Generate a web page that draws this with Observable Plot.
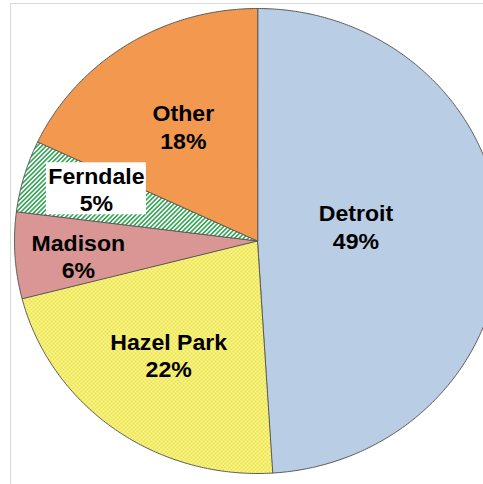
<!DOCTYPE html>
<html><head><meta charset="utf-8">
<script src="https://cdn.jsdelivr.net/npm/d3@7"></script>
<script src="https://cdn.jsdelivr.net/npm/@observablehq/plot@0.6"></script>
<style>body{margin:0;background:#fff} svg{display:block}</style>
</head><body><div id="chart"></div>
<script>
// ---- data ----
const categories = ["Detroit", "Hazel Park", "Madison", "Ferndale", "Other"];
const shares = [49, 22, 6, 5, 18];
const labels = categories.map((c, i) => `${c}\n${shares[i]}%`);

// ---- styles / layout ----
const sliceFills = ["#b9cde5", "url(#checker)", "#d99694", "url(#stripes)", "#f2994f"];
const labelRadius = [0.41, 0.61, 0.74, 0.70, 0.58];
const labelT = [0.46, 0.51, 0.44, 0.64, 0.51];

const total = d3.sum(shares);
let acc = 0;
const slices = categories.map((name, i) => {
  const a0 = acc / total * 2 * Math.PI; acc += shares[i];
  const a1 = acc / total * 2 * Math.PI;
  return {name, a0, a1, i};
});
const outline = [];
for (const s of slices) {
  outline.push({name: s.name, x: 0, y: 0, fill: sliceFills[s.i]});
  const n = Math.max(2, Math.ceil((s.a1 - s.a0) / (Math.PI / 360)));
  for (let k = 0; k <= n; k++) {
    const a = s.a0 + (s.a1 - s.a0) * k / n;
    outline.push({name: s.name, x: Math.sin(a), y: Math.cos(a), fill: sliceFills[s.i]});
  }
}
const rim = outline.filter(d => d.x !== 0 || d.y !== 0);
const labelPts = slices.map(s => {
  const a = s.a0 + (s.a1 - s.a0) * labelT[s.i];
  const r = labelRadius[s.i];
  return {name: s.name, text: labels[s.i], x: r * Math.sin(a), y: r * Math.cos(a)};
});

const chart = Plot.plot({
  width: 483, height: 484,
  marginLeft: 10, marginTop: 3, marginRight: -3, marginBottom: -3,
  x: {domain: [-1, 1], range: [14, 500], axis: null},
  y: {domain: [-1, 1], range: [473, 8], axis: null},
  color: {type: "identity"},
  marks: [
    Plot.frame({stroke: "#d9d9d9"}),
    Plot.line(rim, {x: "x", y: "y", fill: "#8a8a8a", fillOpacity: 0.6, curve: "linear-closed", dx: 1.5, dy: 2.5, ariaLabel: "shadow"}),
    Plot.line(outline, {x: "x", y: "y", z: "name", fill: "fill", stroke: "#5a5a5a", strokeWidth: 1, curve: "linear-closed"}),
    Plot.rect(labelPts.filter(d => d.name === "Ferndale"), {x1: "x", x2: "x", y1: "y", y2: "y", fill: "white",
      insetLeft: -50, insetRight: -50, insetTop: -26, insetBottom: -26}),
    Plot.text(labelPts, {x: "x", y: "y", text: "text", fontSize: 22, fontWeight: "bold", fill: "black",
      lineHeight: 1.25, fontFamily: "Liberation Sans, Arial, sans-serif"})
  ]
});

const defs = d3.select(chart).insert("defs", ":first-child");
const ck = defs.append("pattern").attr("id", "checker").attr("width", 4).attr("height", 4).attr("patternUnits", "userSpaceOnUse");
ck.append("rect").attr("width", 4).attr("height", 4).attr("fill", "#eee52e");
ck.append("rect").attr("x", 0.2).attr("y", 0.2).attr("width", 1.7).attr("height", 1.7).attr("fill", "#fdfbe2");
ck.append("rect").attr("x", 2.2).attr("y", 2.2).attr("width", 1.7).attr("height", 1.7).attr("fill", "#fdfbe2");
const st = defs.append("pattern").attr("id", "stripes").attr("width", 3.2).attr("height", 3.2)
  .attr("patternUnits", "userSpaceOnUse").attr("patternTransform", "rotate(45)");
st.append("rect").attr("width", 3.2).attr("height", 3.2).attr("fill", "#ffffff");
st.append("rect").attr("width", 1.6).attr("height", 3.2).attr("fill", "#35a556");
defs.append("filter").attr("id", "blur").attr("x", "-10%").attr("y", "-10%").attr("width", "120%").attr("height", "120%")
  .append("feGaussianBlur").attr("stdDeviation", 2);
d3.select(chart).select('g[aria-label="shadow"]').attr("filter", "url(#blur)");
d3.select(chart).selectAll('g[aria-label="text"] text').attr("transform", function() {
  return (this.getAttribute("transform") || "") + " scale(1.05,1)";
});

document.getElementById("chart").append(chart);
</script></body></html>
